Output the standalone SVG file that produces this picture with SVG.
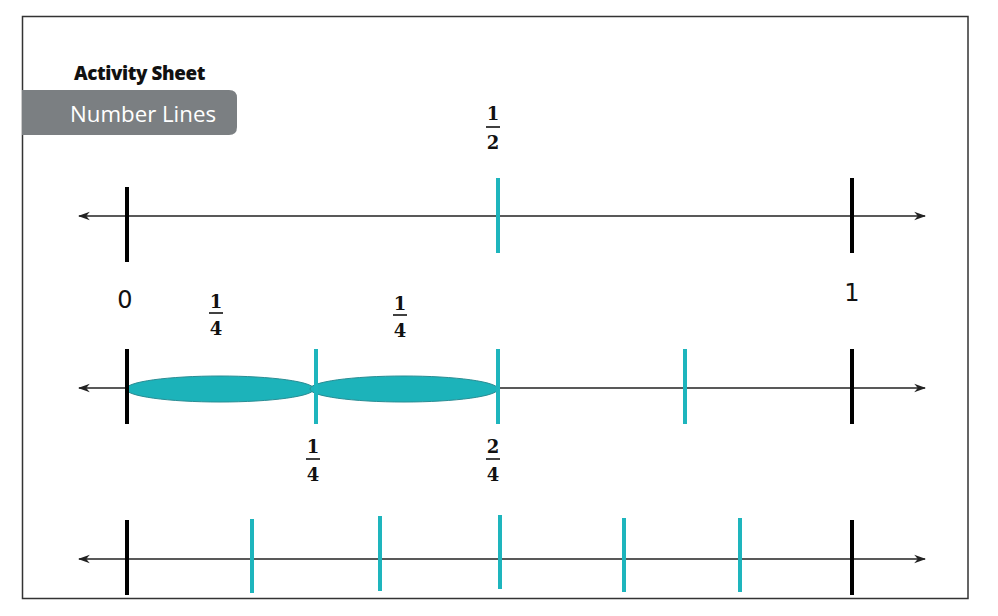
<svg xmlns="http://www.w3.org/2000/svg" width="998" height="616" viewBox="0 0 998 616">
<style>
.axis{stroke:#222;stroke-width:1.6;fill:none;marker-start:url(#ah);marker-end:url(#ah)}
.tk{stroke:#000;stroke-width:4}
.tc{stroke:#1eb5bd;stroke-width:4}
.fr{font-family:"DejaVu Serif","Liberation Serif",serif;font-weight:bold;font-size:18px;fill:#111;text-anchor:middle}
.bar{stroke:#111;stroke-width:1.6}
.lab{font-family:"DejaVu Sans","Liberation Sans",sans-serif;font-size:24px;fill:#111;text-anchor:middle}
.seg{fill:#1cb3ba;stroke:#2a8d94;stroke-width:1}
</style>
<defs>
<marker id="ah" viewBox="0 0 10 10" refX="9" refY="5" markerWidth="12" markerHeight="12" orient="auto-start-reverse" markerUnits="userSpaceOnUse">
<path d="M0,1.5 L10,5 L0,8.5 L3,5 Z" fill="#222"/>
</marker>
</defs>
<rect width="998" height="616" fill="#fff"/>
<rect x="22.5" y="16.5" width="945.5" height="582" fill="none" stroke="#333" stroke-width="1.5"/>
<g id="header">
<path d="M22,90 H229 Q237,90 237,98 V127 Q237,135 229,135 H22 Z" fill="#7b7f82"/>
<text x="74" y="80" font-family="'Open Sans','DejaVu Sans',sans-serif" font-weight="800" font-size="19" fill="#111" letter-spacing="-0.4" textLength="131" lengthAdjust="spacingAndGlyphs">Activity Sheet</text>
<text x="70" y="122" font-family="'Open Sans','DejaVu Sans',sans-serif" font-size="22" fill="#fff" textLength="146" lengthAdjust="spacingAndGlyphs">Number Lines</text>
</g>
<g id="connectors">
<line class="axis" x1="79" y1="216" x2="925" y2="216"/>
<line class="axis" x1="79" y1="388" x2="925" y2="388"/>
<line class="axis" x1="79" y1="559" x2="925" y2="559"/>
</g>
<g id="line1">
<line class="tk" x1="127" y1="187" x2="127" y2="262"/>
<line class="tc" x1="498" y1="178" x2="498" y2="253"/>
<line class="tk" x1="852" y1="178" x2="852" y2="253"/>
<text class="lab" x="125" y="308">0</text>
<text class="lab" x="852" y="301">1</text>
<g id="half">
<text class="fr" x="493" y="120">1</text>
<line class="bar" x1="486" y1="127" x2="500" y2="127"/>
<text class="fr" x="493" y="149">2</text>
</g>
</g>
<g id="line2">
<ellipse class="seg" cx="220" cy="389" rx="94" ry="13"/>
<ellipse class="seg" cx="404" cy="389" rx="94" ry="13"/>
<line class="tk" x1="127" y1="349" x2="127" y2="424"/>
<line class="tc" x1="316" y1="349" x2="316" y2="424"/>
<line class="tc" x1="498" y1="349" x2="498" y2="424"/>
<line class="tc" x1="685" y1="349" x2="685" y2="424"/>
<line class="tk" x1="852" y1="349" x2="852" y2="424"/>
<g id="q1top">
<text class="fr" x="216" y="308">1</text>
<line class="bar" x1="209" y1="313" x2="223" y2="313"/>
<text class="fr" x="216" y="335">4</text>
</g>
<g id="q2top">
<text class="fr" x="400" y="310">1</text>
<line class="bar" x1="393" y1="315" x2="407" y2="315"/>
<text class="fr" x="400" y="337">4</text>
</g>
<g id="q1bot">
<text class="fr" x="313" y="453">1</text>
<line class="bar" x1="306" y1="459" x2="320" y2="459"/>
<text class="fr" x="313" y="481">4</text>
</g>
<g id="q2bot">
<text class="fr" x="493" y="453">2</text>
<line class="bar" x1="486" y1="459" x2="500" y2="459"/>
<text class="fr" x="493" y="481">4</text>
</g>
</g>
<g id="line3">
<line class="tk" x1="127" y1="520" x2="127" y2="595"/>
<line class="tc" x1="252" y1="519" x2="252" y2="593"/>
<line class="tc" x1="380" y1="516" x2="380" y2="591"/>
<line class="tc" x1="500" y1="515" x2="500" y2="589"/>
<line class="tc" x1="624" y1="518" x2="624" y2="592"/>
<line class="tc" x1="740" y1="518" x2="740" y2="592"/>
<line class="tk" x1="852" y1="520" x2="852" y2="595"/>
</g>
</svg>
